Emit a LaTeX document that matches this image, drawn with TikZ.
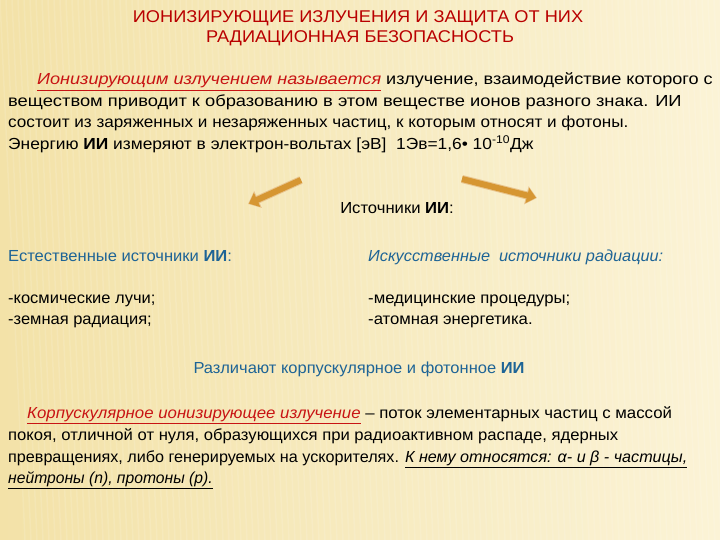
\documentclass[tikz,border=0pt]{standalone}
\usepackage{fontspec}
\setmainfont{Liberation Sans}
\usetikzlibrary{arrows.meta}
\definecolor{ttl}{RGB}{185,0,0}
\definecolor{ulred}{RGB}{200,20,20}
\definecolor{bl}{RGB}{30,100,150}
\definecolor{bgA}{RGB}{243,226,168}
\definecolor{bgB}{RGB}{251,243,214}
\definecolor{arr}{RGB}{214,150,50}
\tikzset{
  ln/.style={anchor=base west,inner sep=0pt,font=\fontsize{16}{19}\selectfont},
  ttlsty/.style={anchor=base,inner sep=0pt,text=ttl,font=\fontsize{17}{20}\selectfont},
}
\newcommand{\sx}[2]{\scalebox{#1}[1]{#2}}
\begin{document}
\begin{tikzpicture}[x=1pt,y=-1pt]
\useasboundingbox (0,0) rectangle (720,540);
\shade[left color=bgA,right color=bgB] (0,0) rectangle (720,540);
\foreach \i in {0,6,...,720} \draw[white,opacity=0.12,line width=1.5pt] (\i,0) -- (\i+25,540);
% title
\node[ttlsty] (t1) at (358,23) {\sx{1.07}{ИОНИЗИРУЮЩИЕ  ИЗЛУЧЕНИЯ И ЗАЩИТА ОТ НИХ}};
\node[ttlsty] (t2) at (360,43) {\sx{1.07}{РАДИАЦИОННАЯ БЕЗОПАСНОСТЬ}};
% paragraph
\node[ln] (p1) at (37,85) {\sx{1.13}{{\color{ulred}\itshape\underline{Ионизирующим излучением называется}} излучение, взаимодействие которого с}};
\node[ln] (p2) at (8,107) {\sx{1.145}{веществом приводит к образованию в этом веществе ионов разного знака. ИИ}};
\node[ln] (p3) at (8,128) {\sx{1.07}{состоит из заряженных и незаряженных частиц, к которым относят и фотоны.}};
\node[ln] (p4) at (8,150) {\sx{1.085}{Энергию \textbf{ИИ} измеряют в электрон-вольтах [эВ]\ \ 1Эв=1,6• 10\textsuperscript{-10}Дж}};
% arrows
\coordinate (la) at (301,180);
\coordinate (lb) at (248,204);
\coordinate (ra) at (462,179);
\coordinate (rb) at (537,198);
\draw[line width=8pt,arr!55!white,-{Triangle[length=11pt,width=18pt]}] (la) -- (lb);
\draw[line width=6pt,arr,-{Triangle[length=9pt,width=15pt]},shorten >=1pt] (la) -- (lb);
\draw[line width=8pt,arr!55!white,-{Triangle[length=11pt,width=18pt]}] (ra) -- (rb);
\draw[line width=6pt,arr,-{Triangle[length=9pt,width=15pt]},shorten >=1pt] (ra) -- (rb);
\node[ln,anchor=base] (src) at (397,214) {\sx{1.04}{Источники \textbf{ИИ}:}};
% columns
\node[ln,text=bl] (nat) at (8,261) {\sx{1.035}{Естественные источники \textbf{ИИ}:}};
\node[ln,text=bl] (art) at (368,261) {\sx{1.02}{\itshape Искусственные\ \ источники радиации:}};
\node[ln] (n1) at (8,303) {\sx{1.03}{-космические лучи;}};
\node[ln] (n2) at (8,324) {\sx{1.03}{-земная радиация;}};
\node[ln] (a1) at (368,303) {\sx{1.045}{-медицинские процедуры;}};
\node[ln] (a2) at (368,324) {\sx{1.045}{-атомная энергетика.}};
\node[ln,anchor=base,text=bl] (dist) at (359,373) {\sx{1.03}{Различают корпускулярное и фотонное \textbf{ИИ}}};
% bottom paragraph
\node[ln] (b1) at (27,418) {\sx{1.05}{{\color{ulred}\itshape\underline{Корпускулярное ионизирующее излучение}} – поток элементарных частиц с массой}};
\node[ln] (b2) at (8,440) {\sx{1.04}{покоя, отличной от нуля, образующихся при радиоактивном распаде, ядерных}};
\node[ln] (b3) at (8,462) {\sx{1.01}{превращениях, либо генерируемых на ускорителях. \itshape\underline{К нему относятся: α- и β - частицы,}}};
\node[ln] (b4) at (8,483) {\sx{0.98}{\itshape\underline{нейтроны (n), протоны (p).}}};
\end{tikzpicture}
\end{document}
